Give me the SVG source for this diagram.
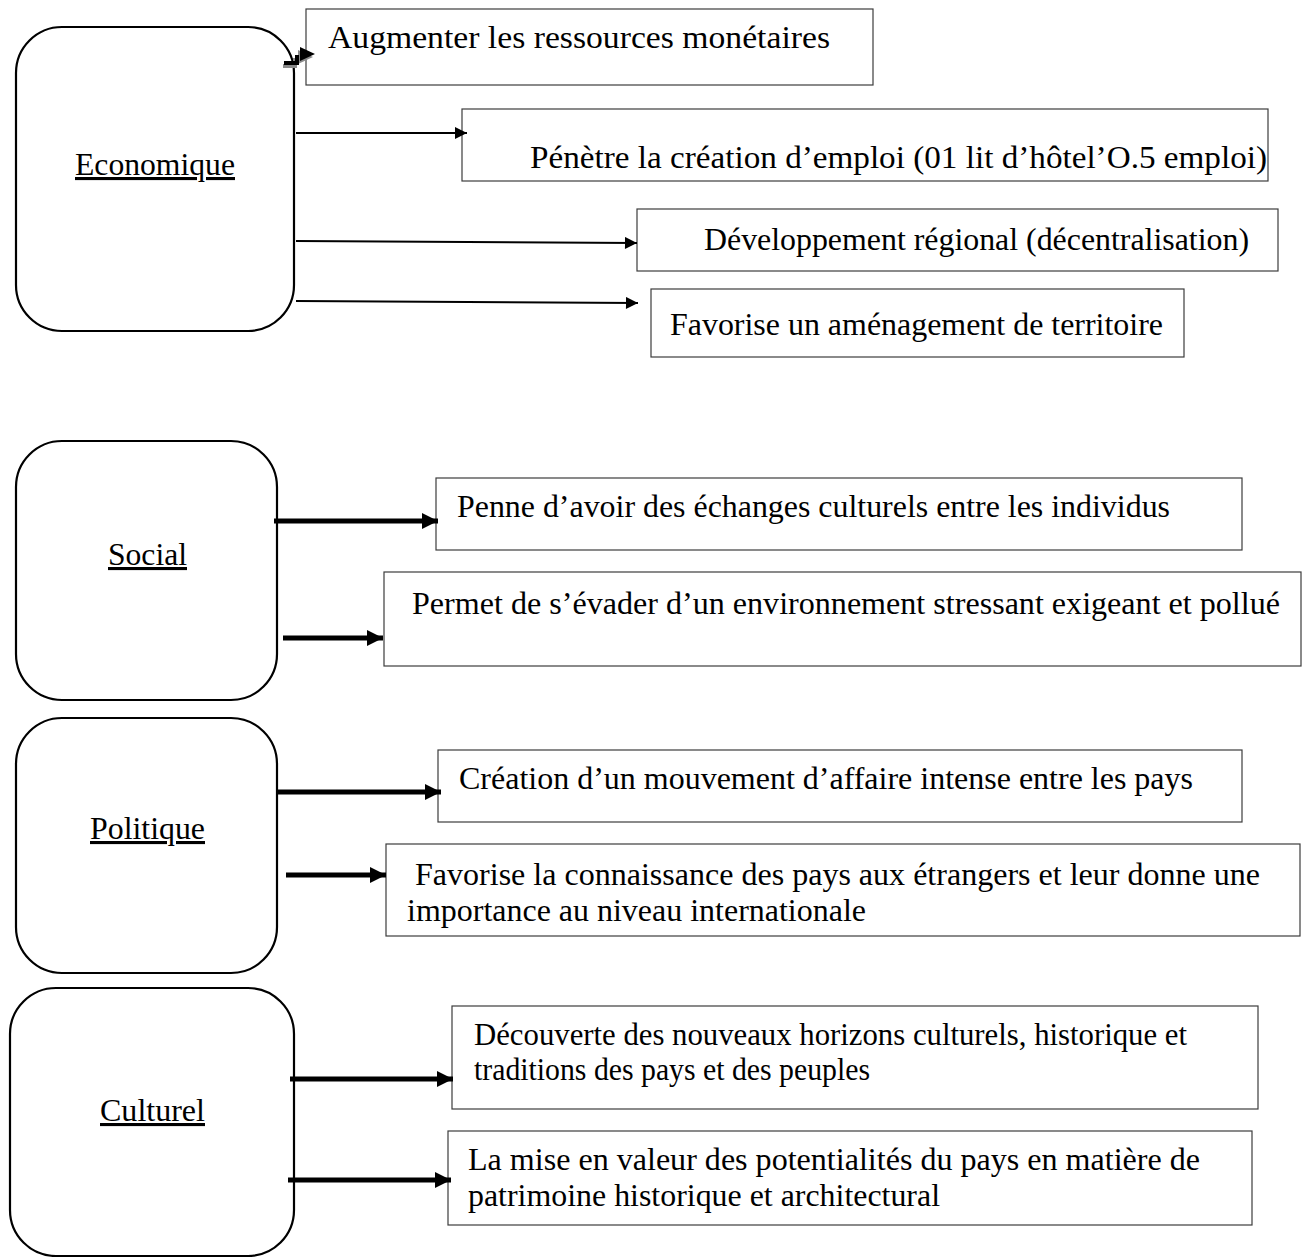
<svg xmlns="http://www.w3.org/2000/svg" width="1307" height="1257" viewBox="0 0 1307 1257">
<style>
.cat{fill:#fff;stroke:#000;stroke-width:2.2}
.box{fill:#fff;stroke:#3c3c3c;stroke-width:1.2}
text{font-family:'Liberation Serif';font-size:31px;fill:#000}
.lbl{text-decoration:underline}
.thin{stroke:#000;stroke-width:2;fill:none}
.thick{stroke:#000;stroke-width:5;fill:none}
</style>
<defs>
<marker id="ah" viewBox="0 0 10 10" refX="10" refY="5" markerWidth="14" markerHeight="12" markerUnits="userSpaceOnUse" orient="auto"><path d="M0,0 L10,5 L0,10 Z" fill="#000"/></marker>
<marker id="ahb" viewBox="0 0 10 10" refX="10" refY="5" markerWidth="16" markerHeight="16" markerUnits="userSpaceOnUse" orient="auto"><path d="M0,0 L10,5 L0,10 Z" fill="#000"/></marker>
<clipPath id="c8"><rect x="386" y="844" width="914" height="87"/></clipPath>
<clipPath id="c10"><rect x="448" y="1131" width="804" height="84"/></clipPath>
</defs>
<rect width="1307" height="1257" fill="#fff"/>
<g id="economique"><rect class="cat" x="16" y="27" width="278" height="304" rx="46"/><text class="lbl" x="75" y="175" textLength="160" lengthAdjust="spacingAndGlyphs">Economique</text></g>
<g id="social"><rect class="cat" x="16" y="441" width="261" height="259" rx="46"/><text class="lbl" x="108" y="565" textLength="79" lengthAdjust="spacingAndGlyphs">Social</text></g>
<g id="politique"><rect class="cat" x="16" y="718" width="261" height="255" rx="46"/><text class="lbl" x="90" y="839" textLength="115" lengthAdjust="spacingAndGlyphs">Politique</text></g>
<g id="culturel"><rect class="cat" x="10" y="988" width="284" height="268" rx="46"/><text class="lbl" x="100" y="1121" textLength="105" lengthAdjust="spacingAndGlyphs">Culturel</text></g>

<g id="b1"><rect class="box" x="306" y="9" width="567" height="76"/><text x="328" y="48" textLength="502" lengthAdjust="spacingAndGlyphs">Augmenter les ressources monétaires</text></g>
<g id="b2"><rect class="box" x="462" y="109" width="806" height="72"/><text x="530" y="168" textLength="737" lengthAdjust="spacingAndGlyphs">Pénètre la création d’emploi (01 lit d’hôtel’O.5 emploi)</text></g>
<g id="b3"><rect class="box" x="637" y="209" width="641" height="62"/><text x="704" y="250" textLength="545" lengthAdjust="spacingAndGlyphs">Développement régional (décentralisation)</text></g>
<g id="b4"><rect class="box" x="651" y="289" width="533" height="68"/><text x="670" y="335" textLength="493" lengthAdjust="spacingAndGlyphs">Favorise un aménagement de territoire</text></g>
<g id="b5"><rect class="box" x="436" y="478" width="806" height="72"/><text x="457" y="517" textLength="713" lengthAdjust="spacingAndGlyphs">Penne d’avoir des échanges culturels entre les individus</text></g>
<g id="b6"><rect class="box" x="384" y="572" width="917" height="94"/><text x="412" y="614" textLength="868" lengthAdjust="spacingAndGlyphs">Permet de s’évader d’un environnement stressant exigeant et pollué</text></g>
<g id="b7"><rect class="box" x="438" y="750" width="804" height="72"/><text x="459" y="789" textLength="734" lengthAdjust="spacingAndGlyphs">Création d’un mouvement d’affaire intense entre les pays</text></g>
<g id="b8"><rect class="box" x="386" y="844" width="914" height="92"/><g clip-path="url(#c8)"><text x="415" y="885" textLength="845" lengthAdjust="spacingAndGlyphs">Favorise la connaissance des pays aux étrangers et leur donne une</text><text x="407" y="921" textLength="459" lengthAdjust="spacingAndGlyphs">importance au niveau internationale</text></g></g>
<g id="b9"><rect class="box" x="452" y="1006" width="806" height="103"/><text x="474" y="1045" textLength="713" lengthAdjust="spacingAndGlyphs">Découverte des nouveaux horizons culturels, historique et</text><text x="474" y="1080" textLength="396" lengthAdjust="spacingAndGlyphs">traditions des pays et des peuples</text></g>
<g id="b10"><rect class="box" x="448" y="1131" width="804" height="94"/><g clip-path="url(#c10)"><text x="468" y="1170" textLength="732" lengthAdjust="spacingAndGlyphs">La mise en valeur des potentialités du pays en matière de</text><text x="468" y="1206" textLength="472" lengthAdjust="spacingAndGlyphs">patrimoine historique et architectural</text></g></g>
<g id="connectors">
<path d="M283,66 L295,66 L295,58" stroke="#8a8a8a" stroke-width="4" fill="none"/>
<path d="M298,50 L313,57 L298,64 Z" fill="#8a8a8a"/>
<path d="M284,63 L297,63 L297,55" stroke="#000" stroke-width="4" fill="none"/>
<path d="M300,47 L315,54 L300,61 Z" fill="#000"/>
<path d="M296,133 L467,133" class="thin" marker-end="url(#ah)"/>
<path d="M296,241 L637,243" class="thin" marker-end="url(#ah)"/>
<path d="M296,301 L638,303" class="thin" marker-end="url(#ah)"/>
<path d="M274,521 L438,521" class="thick" marker-end="url(#ahb)"/>
<path d="M283,638 L383,638" class="thick" marker-end="url(#ahb)"/>
<path d="M276,792 L441,792" class="thick" marker-end="url(#ahb)"/>
<path d="M286,875 L386,875" class="thick" marker-end="url(#ahb)"/>
<path d="M290,1079 L453,1079" class="thick" marker-end="url(#ahb)"/>
<path d="M288,1180 L451,1180" class="thick" marker-end="url(#ahb)"/>
</g>
</svg>
